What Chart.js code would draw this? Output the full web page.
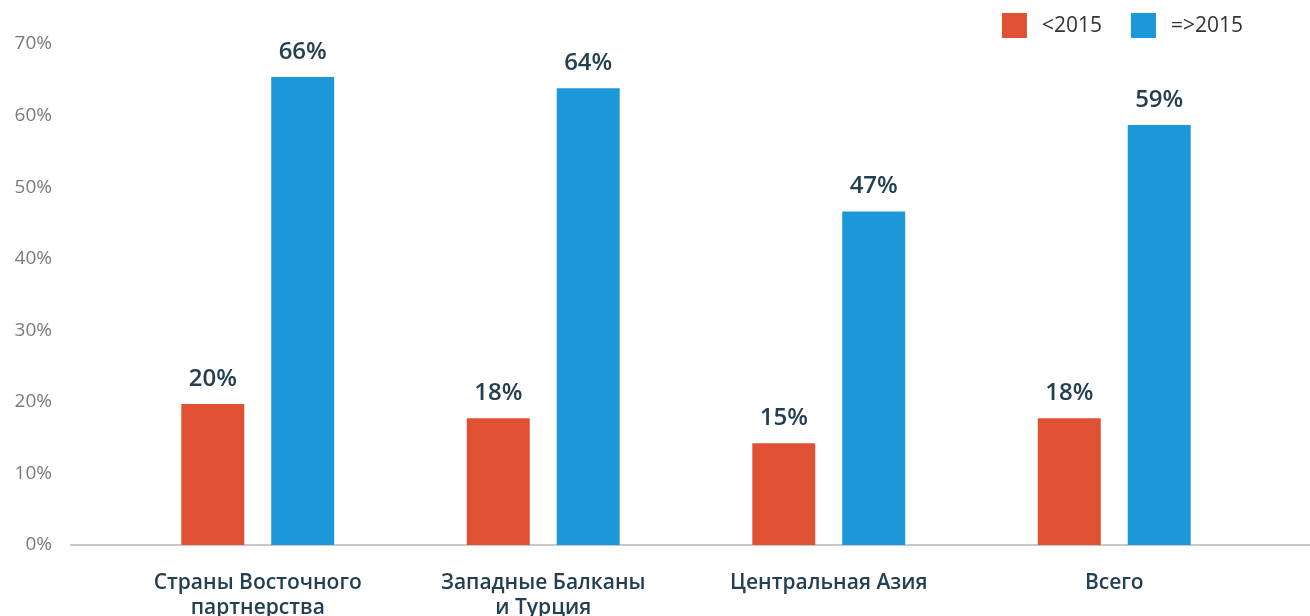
<!DOCTYPE html>
<html lang="ru">
<head>
  <meta charset="UTF-8">
  <title>Доля по периодам</title>
  <script src="https://cdn.jsdelivr.net/npm/chart.js"></script>
  <style>
    html, body {
      margin: 0;
      padding: 0;
      background: #fff;
      overflow: hidden;
    }
    canvas {
      display: block;
    }
  </style>
</head>
<body>
  <canvas id="chart" width="1310" height="616"></canvas>

  <script>
    // Kategorien und Werte
    const regions = [
      ['Страны Восточного', 'партнерства'],
      ['Западные Балканы', 'и Турция'],
      'Центральная Азия',
      'Всего'
    ];
    const before2015 = [19.7, 17.7, 14.2, 17.7];
    const since2015 = [65.4, 63.8, 46.6, 58.7];
    const before2015Labels = ['20%', '18%', '15%', '18%'];
    const since2015Labels = ['66%', '64%', '47%', '59%'];

    const fontFamily = '"Open Sans", Lato, sans-serif';
    const darkText = '#243f52';

    // Werte über den Balken zeichnen
    const valueLabels = {
      id: 'valueLabels',
      afterDatasetsDraw(chart) {
        const ctx = chart.ctx;
        const texts = [before2015Labels, since2015Labels];
        ctx.save();
        ctx.font = '600 24px ' + fontFamily;
        ctx.fillStyle = darkText;
        ctx.textAlign = 'center';
        ctx.textBaseline = 'middle';
        chart.data.datasets.forEach((ds, i) => {
          chart.getDatasetMeta(i).data.forEach((bar, j) => {
            ctx.fillText(texts[i][j], bar.x, bar.y - 25);
          });
        });
        ctx.restore();
      }
    };

    // Grundlinie über die ganze Breite
    const baseLine = {
      id: 'baseLine',
      beforeDatasetsDraw(chart) {
        const ctx = chart.ctx;
        const y = chart.scales.y.getPixelForValue(0);
        ctx.save();
        ctx.strokeStyle = '#c8c8c8';
        ctx.lineWidth = 2;
        ctx.beginPath();
        ctx.moveTo(70, y);
        ctx.lineTo(chart.width, y);
        ctx.stroke();
        ctx.restore();
      }
    };

    // Legende oben rechts (aus den Datensätzen)
    const topLegend = {
      id: 'topLegend',
      afterDraw(chart) {
        const ctx = chart.ctx;
        const box = 25, gapText = 15, gapItem = 29, right = 1243, top = 13;
        ctx.save();
        ctx.font = '21px ' + fontFamily;
        ctx.textBaseline = 'middle';
        ctx.textAlign = 'left';
        const items = chart.data.datasets.map(ds => ({
          text: ds.label,
          color: ds.backgroundColor,
          w: box + gapText + ctx.measureText(ds.label).width
        }));
        let x = right - items.reduce((s, it) => s + it.w, 0) - gapItem * (items.length - 1);
        items.forEach(it => {
          ctx.fillStyle = it.color;
          ctx.fillRect(x, top, box, box);
          ctx.fillStyle = '#333';
          ctx.fillText(it.text, x + box + gapText, top + box / 2 + 1);
          x += it.w + gapItem;
        });
        ctx.restore();
      }
    };

    new Chart(document.getElementById('chart'), {
      type: 'bar',
      data: {
        labels: regions,
        datasets: [
          {
            label: '<2015',
            data: before2015,
            backgroundColor: '#e05033',
            barPercentage: 0.7,
            categoryPercentage: 0.63
          },
          {
            label: '=>2015',
            data: since2015,
            backgroundColor: '#1a98d7',
            barPercentage: 0.7,
            categoryPercentage: 0.63
          }
        ]
      },
      options: {
        responsive: false,
        animation: false,
        layout: {
          padding: { top: 44, right: 53, bottom: 0, left: 0 }
        },
        plugins: {
          legend: { display: false },
          tooltip: { enabled: false }
        },
        scales: {
          x: {
            grid: { display: false, drawTicks: false },
            border: { display: false },
            ticks: {
              color: darkText,
              padding: 25,
              font: { family: fontFamily, size: 21, weight: '600', lineHeight: 1.2 }
            },
            afterFit(scale) { scale.height = 71; }
          },
          y: {
            min: 0,
            max: 70,
            grid: { display: false, drawTicks: false },
            border: { display: false },
            ticks: {
              stepSize: 10,
              color: '#7a7a7a',
              padding: 63,
              font: { family: fontFamily, size: 19 },
              callback: v => v + '%'
            },
            afterFit(scale) {
              scale.width = 115;
              scale.paddingTop = 12;
              scale.paddingBottom = 12;
            }
          }
        }
      },
      plugins: [baseLine, valueLabels, topLegend]
    });
  </script>
</body>
</html>
